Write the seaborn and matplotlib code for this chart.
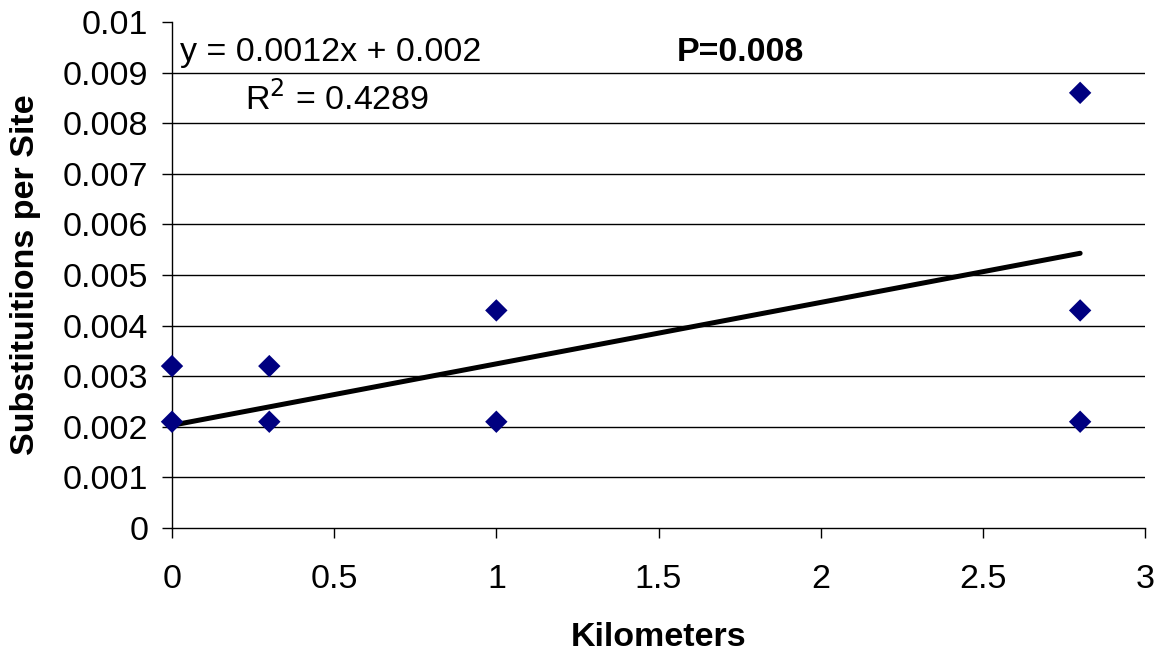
import matplotlib
matplotlib.use("Agg")
import matplotlib.pyplot as plt
import seaborn as sns
import numpy as np
import pandas as pd

# Data
km = [0.0, 0.0, 0.3, 0.3, 1.0, 1.0, 2.8, 2.8, 2.8]
subs = [0.0032, 0.0021, 0.0032, 0.0021, 0.0043, 0.0021, 0.0086, 0.0043, 0.0021]
trend_x = [0.0, 2.8]
trend_slope = 0.001214
trend_intercept = 0.00203
x_ticks = [0, 0.5, 1, 1.5, 2, 2.5, 3]
y_ticks = [0, 0.001, 0.002, 0.003, 0.004, 0.005, 0.006, 0.007, 0.008, 0.009, 0.01]
y_tick_labels = ["0", "0.001", "0.002", "0.003", "0.004", "0.005", "0.006",
                 "0.007", "0.008", "0.009", "0.01"]
x_tick_labels = ["0", "0.5", "1", "1.5", "2", "2.5", "3"]

df = pd.DataFrame({"Kilometers": km, "Substituitions per Site": subs})

sns.set_theme(style="white")
plt.rcParams["font.family"] = ["Liberation Sans", "DejaVu Sans"]
plt.rcParams["text.color"] = "black"
plt.rcParams["axes.labelcolor"] = "black"

FS = 24.5

fig = plt.figure(figsize=(11.73, 6.54), dpi=100)
ax = fig.add_axes([172/1173, 1 - 528/654, 973/1173, 506/654])

# gridlines (excluding top)
for yv in y_ticks[1:-1]:
    ax.axhline(yv, color="black", lw=1.0, zorder=0)

tx = np.array(trend_x)
ax.plot(tx, trend_intercept + trend_slope * tx, color="black", lw=3.6,
        solid_capstyle="round", zorder=2)

sns.scatterplot(data=df, x="Kilometers", y="Substituitions per Site", ax=ax,
                marker="D", s=130, color="#000080", edgecolor="none", zorder=3,
                clip_on=False)

ax.set_xlim(0, 3)
ax.set_ylim(0, 0.01)
ax.set_xticks(x_ticks)
ax.set_xticklabels(x_tick_labels)
ax.set_yticks(y_ticks)
ax.set_yticklabels(y_tick_labels)
ax.tick_params(axis="both", which="major", direction="out", length=7, width=1,
               color="black", labelsize=FS, labelcolor="black",
               left=True, bottom=True)
ax.tick_params(axis="y", pad=10)
ax.tick_params(axis="x", pad=19)

for side in ["top", "right"]:
    ax.spines[side].set_visible(False)
for side in ["left", "bottom"]:
    ax.spines[side].set_color("black")
    ax.spines[side].set_linewidth(1.0)

ax.set_xlabel("Kilometers", fontsize=FS, fontweight="bold", labelpad=19, color="black")
ax.set_ylabel("Substituitions per Site", fontsize=FS, fontweight="bold", labelpad=16, color="black")

ax.text(0.025, 0.00940, "y = 0.0012x + 0.002", fontsize=FS, va="center", ha="left", color="black")
ax.text(0.225, 0.00848, "R$^{2}$ = 0.4289", fontsize=FS, va="center", ha="left", color="black")
ax.text(1.751, 0.00940, "P=0.008", fontsize=FS, fontweight="bold", va="center", ha="center", color="black")

fig.savefig("out.png", dpi=100)
